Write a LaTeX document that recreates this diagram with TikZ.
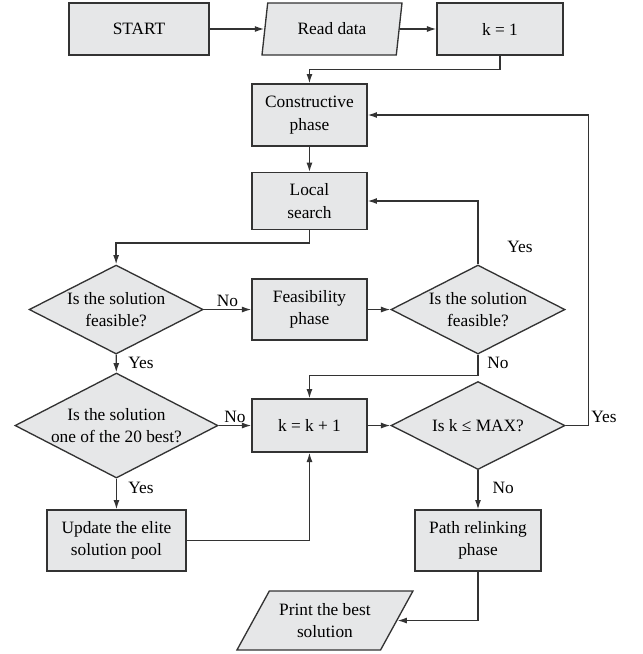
\documentclass[tikz,border=0pt]{standalone}
\usepackage{fontspec}
\setmainfont{Liberation Serif}
\usetikzlibrary{positioning,arrows.meta,shapes.geometric}
\definecolor{boxfill}{HTML}{E6E7E8}
\definecolor{linegrey}{HTML}{333333}

\begin{document}
\begin{tikzpicture}[
  font=\fontsize{13}{16.8}\selectfont,
  on grid,
  box/.style={draw=linegrey, fill=boxfill, line width=1pt, align=center,
              inner sep=2pt, minimum width=86.25pt, minimum height=45.75pt},
  io/.style={trapezium, trapezium stretches body, draw=linegrey,
             fill=boxfill, line width=1pt, align=center, inner sep=1pt},
  decision/.style={diamond, aspect=1.95, draw=linegrey, fill=boxfill,
                   line width=1pt, align=center, inner xsep=-5pt,
                   inner ysep=0pt, minimum width=130.5pt,
                   minimum height=66.75pt},
  arr/.style={-{Latex[length=7pt,width=4.5pt]}, draw=linegrey, line width=1pt},
  lbl/.style={inner sep=1.5pt},
]
\useasboundingbox (-232.1pt,86.25pt) rectangle (250.1pt,-404.25pt);

\node[box, minimum height=46.5pt] (cons) {Constructive\\phase};
\node[io, above=64.5pt of cons, xshift=16.9pt, minimum width=105pt,
  minimum height=39pt, trapezium left angle=69, trapezium right angle=111]
  (read) {Read data};
\node[box, left=144.75pt of read, minimum width=105pt, minimum height=39pt]
  (start) {START};
\node[box, right=126pt of read, minimum width=94.5pt, minimum height=39pt]
  (kone) {k = 1};
\node[box, below=64.5pt of cons, minimum height=42.5pt] (local) {Local\\search};
\node[box, below=81.4pt of local] (feas) {Feasibility\\phase};
\node[decision, left=145pt of feas] (dfeas) {Is the solution\\feasible?};
\node[decision, right=126.4pt of feas] (drefeas) {Is the solution\\feasible?};
\node[box, below=87pt of feas, minimum height=39.75pt] (inc) {k = k + 1};
\node[decision, left=144.75pt of inc, minimum width=152.25pt,
  minimum height=78.75pt] (dbest) {Is the solution\\one of the 20 best?};
\node[decision, right=126.4pt of inc, minimum height=66pt] (dmax)
  {Is k ≤ MAX?};
\node[box, below=86.25pt of dbest, minimum width=104.25pt] (elite)
  {Update the elite\\solution pool};
\node[box, below=86.25pt of dmax, minimum width=94.5pt] (path)
  {Path relinking\\phase};
\node[io, below=146.25pt of inc, xshift=11.6pt, minimum width=132pt,
  minimum height=44.25pt, trapezium left angle=49, trapezium right angle=131]
  (print) {Print the best\\solution};

\draw[arr] (start) -- (read);
\draw[arr] (read) -- (kone);
\draw[arr] (kone.south) -- ++(0,-10.5pt) -| (cons.north);
\draw[arr] (cons) -- (local);
\draw[arr] (local.south) -- ++(0,-9.75pt) -| (dfeas.north);
\draw[arr] (dfeas) -- node[lbl, above] {No} (feas);
\draw[arr] (feas) -- (drefeas);
\draw[arr] (drefeas.north) |- node[lbl, pos=0.14, right=20pt] {Yes} (local.east);
\draw[arr] (drefeas.south) -- node[lbl, right=5pt, pos=0.4] {No}
  ++(0,-15.75pt) -| (inc.north);
\draw[arr] (dfeas) -- node[lbl, right=7pt, pos=0.45] {Yes} (dbest);
\draw[arr] (dbest) -- node[lbl, above] {No} (inc);
\draw[arr] (inc) -- (dmax);
\draw[arr] (dmax.east) -- ++(17.25pt,0) node[lbl, anchor=south west] {Yes}
  |- (cons.east);
\draw[arr] (dbest) -- node[lbl, right=7pt, pos=0.3] {Yes} (elite);
\draw[arr] (dmax) -- node[lbl, right=9pt, pos=0.45] {No} (path);
\draw[arr] (elite.east) -| (inc.south);
\draw[arr] (path.south) |- (print.east);
\end{tikzpicture}
\end{document}
